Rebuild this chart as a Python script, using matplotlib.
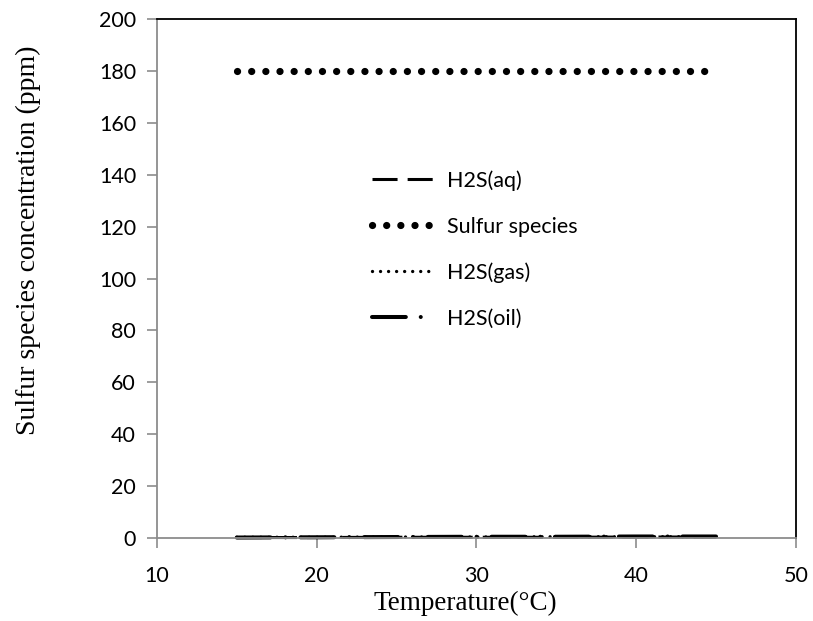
import matplotlib
matplotlib.use("Agg")
import matplotlib.pyplot as plt

# Temperature sweep (°C)
temperature = [15, 20, 25, 30, 35, 40, 45]

# Concentrations (ppm)
h2s_aq = [0.1, 0.1, 0.2, 0.2, 0.2, 0.3, 0.3]
sulfur_species = [180, 180, 180, 180, 180, 180, 180]
h2s_gas = [0.2, 0.2, 0.3, 0.3, 0.4, 0.4, 0.4]
h2s_oil = [0.1, 0.2, 0.3, 0.4, 0.4, 0.5, 0.5]

x_ticks = [10, 20, 30, 40, 50]
y_ticks = [0, 20, 40, 60, 80, 100, 120, 140, 160, 180, 200]

series_labels = ["H2S(aq)", "Sulfur species", "H2S(gas)", "H2S(oil)"]

tick_font = "Lato"
title_font = "Liberation Serif"

fig = plt.figure(figsize=(8.13, 6.21), dpi=100)
ax = fig.add_axes([0.193, 0.134, 0.786, 0.835])

styles = [
    dict(lw=2.2, ls=(0, (8.2, 3.3)), cap="butt"),
    dict(lw=5.2, ls=(0, (0.01, 1.95)), cap="round"),
    dict(lw=2.4, ls=(0, (0.01, 2.4)), cap="round"),
    dict(lw=2.9, ls=(0, (8.4, 3.7, 0.01, 3.7)), cap="round"),
]
series = [h2s_aq, sulfur_species, h2s_gas, h2s_oil]

handles = []
for vals, st, lab in zip(series, styles, series_labels):
    ln, = ax.plot(temperature, vals, color="black", linewidth=st["lw"],
                  linestyle=st["ls"], dash_capstyle=st["cap"],
                  label=lab, clip_on=False)
    handles.append(ln)

ax.set_xlim(10, 50)
ax.set_ylim(0, 200)
ax.set_xticks(x_ticks)
ax.set_yticks(y_ticks)

for side in ("left", "bottom"):
    ax.spines[side].set_color("#8c8c8c")
    ax.spines[side].set_linewidth(1.3)
for side in ("top", "right"):
    ax.spines[side].set_color("black")
    ax.spines[side].set_linewidth(1.3)

ax.tick_params(axis="both", direction="out", length=7, width=1.2,
               color="#8c8c8c", labelsize=15.5)
ax.tick_params(axis="x", pad=13)
ax.tick_params(axis="y", pad=8)
for lbl in ax.get_xticklabels() + ax.get_yticklabels():
    lbl.set_fontfamily(tick_font)

fig.text(465 / 813, 1 - 603 / 621, "Temperature(°C)", fontfamily=title_font,
         fontsize=19.5, ha="center", va="center")
fig.text(28 / 813, 1 - 240 / 621, "Sulfur species concentration (ppm)",
         fontfamily=title_font, fontsize=20, rotation=90,
         ha="center", va="center")

leg = ax.legend(handles=handles, loc="upper left", bbox_to_anchor=(0.336, 0.709),
                frameon=False, prop={"family": tick_font, "size": 15.5},
                handlelength=2.9, handletextpad=0.6, labelspacing=1.2,
                borderpad=0, borderaxespad=0)

fig.savefig("out.png", dpi=100)
